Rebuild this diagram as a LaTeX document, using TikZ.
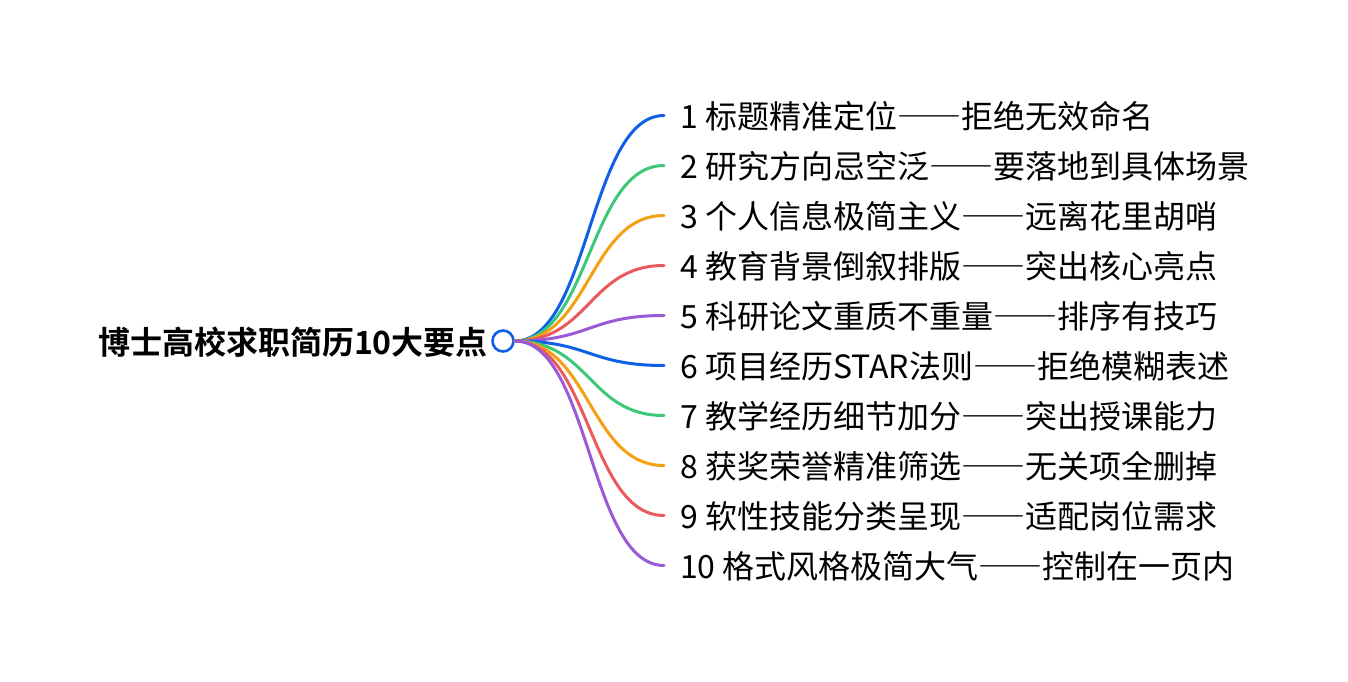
\documentclass[tikz,border=0pt]{standalone}
\usepackage{fontspec}
\setmainfont{Noto Sans CJK SC}[BoldFont={Noto Sans CJK SC Bold}]
\usepackage{tikz}

\definecolor{c1}{HTML}{1060E6}
\definecolor{c2}{HTML}{3CC878}
\definecolor{c3}{HTML}{F5A012}
\definecolor{c4}{HTML}{EA5A5C}
\definecolor{c5}{HTML}{9A5AD8}

% full-width dash pair
\newcommand{\fwdash}{{\addfontfeatures{CharacterWidth=Full}——}}

\begin{document}
\begin{tikzpicture}[
    x=1pt, y=-1pt,
    topic/.style={anchor=east, inner sep=0pt, font=\bfseries\fontsize{32}{38}\selectfont},
    hub/.style={circle, draw=c1, line width=2.6pt, fill=white, minimum size=21pt, inner sep=0pt},
    item/.style={anchor=west, inner xsep=16pt, inner ysep=0pt, font=\fontsize{32}{38}\selectfont},
    branch/.style={line width=3pt, line cap=round}
]
    \useasboundingbox (0,0) rectangle (1348,682);

    \node[hub] (hub) at (503,341) {};
    \node[topic] (root) at (488,342) {博士高校求职简历10大要点};

    \foreach \txt [count=\i] in {
        1 标题精准定位\fwdash 拒绝无效命名,
        2 研究方向忌空泛\fwdash 要落地到具体场景,
        3 个人信息极简主义\fwdash 远离花里胡哨,
        4 教育背景倒叙排版\fwdash 突出核心亮点,
        5 科研论文重质不重量\fwdash 排序有技巧,
        6 项目经历STAR法则\fwdash 拒绝模糊表述,
        7 教学经历细节加分\fwdash 突出授课能力,
        8 获奖荣誉精准筛选\fwdash 无关项全删掉,
        9 软性技能分类呈现\fwdash 适配岗位需求,
        10 格式风格极简大气\fwdash 控制在一页内}
    {
        \pgfmathtruncatemacro{\k}{mod(\i-1,5)+1}
        \node[item] (t\i) at (664,{116.5+50*(\i-1)}) {\txt};
        \draw[branch, c\k] (hub.east) .. controls +(75,0) and +(-75,0) .. ([yshift=1pt]t\i.west);
    }
\end{tikzpicture}
\end{document}
